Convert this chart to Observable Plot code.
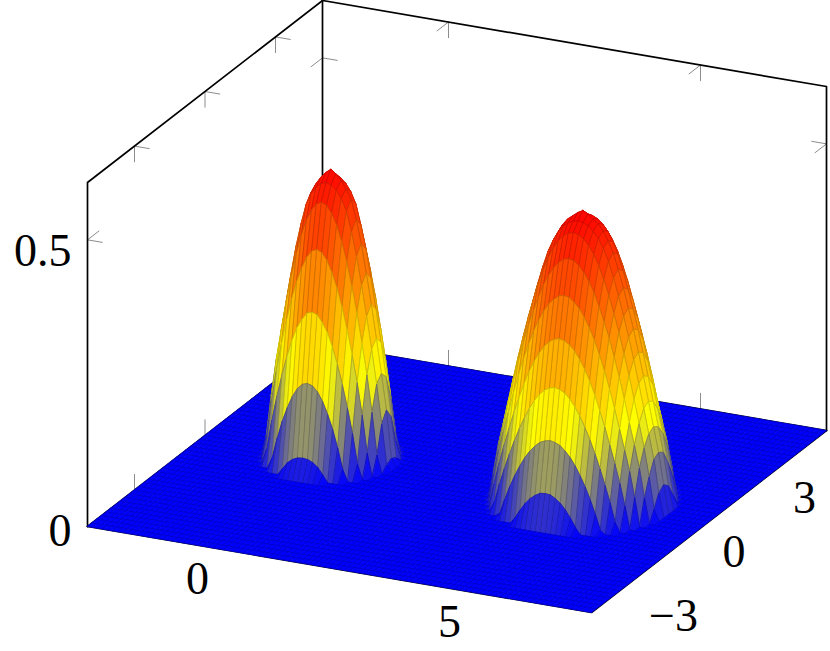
<!DOCTYPE html>
<html>
<head>
<meta charset="utf-8">
<script src="https://cdn.jsdelivr.net/npm/d3@7"></script>
<script src="https://cdn.jsdelivr.net/npm/@observablehq/plot@0.6"></script>
<style>
html,body{margin:0;padding:0;background:#fff}
svg{display:block}
</style>
</head>
<body>
<div id="chart"></div>
<script>
// axis ranges and ticks
const xRange = [-2.5, 7.5];
const yRange = [-5, 5];
const zRange = [0, 0.6];
const xTicks = [0, 5];
const yTicks = [-3, 0, 3];
const zTicks = [0, 0.5];

// sampling of the surface
const xStep = 0.1, yStep = 0.2;
const xCount = 100, yCount = 50;

// bump centres (x, y = 0)
const leftCentre = 0, rightCentre = 5;

// heights: one row per |y| = 0, 0.2, 0.4 ..., one value per |x| = 0, 0.1, 0.2 ...
const leftBump = [
  [.502,.495,.485,.472,.455,.422,.381,.331,.278,.220,.160,.098,.015],
  [.485,.482,.474,.461,.441,.406,.365,.316,.263,.207,.148,.080,.010],
  [.457,.453,.441,.422,.395,.361,.320,.275,.223,.169,.105,.032],
  [.381,.377,.365,.345,.320,.288,.250,.207,.160,.105,.040],
  [.278,.275,.263,.247,.223,.194,.160,.121,.078,.026],
  [.160,.157,.148,.133,.112,.087,.056,.020],
  [.036,.035,.031,.024,.012]
];
const rightBump = [
  [.505,.500,.493,.486,.475,.459,.440,.412,.382,.348,.313,.274,.234,.191,.148,.105,.050],
  [.493,.491,.487,.479,.468,.452,.431,.404,.373,.340,.305,.267,.227,.185,.142,.099,.042],
  [.479,.477,.471,.461,.447,.429,.406,.380,.350,.318,.283,.246,.206,.165,.124,.075,.020],
  [.440,.438,.431,.420,.406,.388,.365,.340,.313,.281,.248,.211,.171,.134,.095,.045],
  [.382,.380,.373,.364,.350,.333,.313,.289,.262,.232,.199,.165,.130,.094,.050],
  [.313,.311,.305,.296,.283,.267,.248,.225,.199,.172,.142,.111,.078,.040],
  [.234,.232,.227,.218,.206,.191,.173,.153,.130,.105,.078,.049,.016],
  [.148,.146,.142,.134,.124,.111,.095,.077,.056,.032,.006],
  [.062,.061,.056,.049,.039,.026,.011]
];

// colormap "hot"
const colorStops = [0, .168, .335, .505];
const colorNames = ["#0000ff", "#ffff00", "#ff8000", "#ff0000"];
const meshShade = 0.82;   // mesh lines: the mapped colour darkened

const hot = d3.scaleLinear().domain(colorStops).range(colorNames).interpolate(d3.interpolateRgb).clamp(true);
const meshColor = (v) => {
  const c = d3.rgb(hot(v));
  return `rgb(${c.r * meshShade},${c.g * meshShade},${c.b * meshShade})`;
};

// oblique projection of the 3-D box onto the page
const px = (x, y) => 87 + 50.4 * (x - xRange[0]) + 23.5 * (y - yRange[0]);
const py = (x, y, z) => 526 + 8.6 * (x - xRange[0]) - 18.2 * (y - yRange[0]) - 573.3 * z;
const P = (x, y, z) => ({X: px(x, y), Y: py(x, y, z)});

function height(i, j) {
  const xv = xRange[0] + i * xStep, yv = yRange[0] + j * yStep;
  const row = Math.round(Math.abs(yv) / yStep);
  const colL = Math.round(Math.abs(xv - leftCentre) / xStep);
  const colR = Math.round(Math.abs(xv - rightCentre) / xStep);
  return (leftBump[row]?.[colL] ?? 0) + (rightBump[row]?.[colR] ?? 0);
}

// cells, back to front
const cells = [];
let id = 0;
for (let j = yCount - 1; j >= 0; j--) {
  for (let i = 0; i < xCount; i++) {
    const corners = [[i, j], [i + 1, j], [i + 1, j + 1], [i, j + 1]];
    const zs = corners.map(([a, b]) => height(a, b));
    const mean = d3.mean(zs);
    const line = meshColor(mean);
    corners.forEach(([a, b], k) => {
      const p = P(xRange[0] + a * xStep, yRange[0] + b * yStep, zs[k]);
      cells.push({id, X: p.X, Y: p.Y, mean, line});
    });
    id++;
  }
}

const [x0, x1] = xRange, [y0, y1] = yRange, [z0, z1] = zRange;
const edge = (pts) => pts.map(([a, b, c]) => P(a, b, c));
const boxEdges = [
  edge([[x0,y0,z0],[x0,y0,z1],[x0,y1,z1],[x1,y1,z1],[x1,y1,z0]]),
  edge([[x0,y1,z0],[x0,y1,z1]]),
  edge([[x0,y0,z0],[x1,y0,z0],[x1,y1,z0]]),
  edge([[x0,y0,z0],[x0,y1,z0],[x1,y1,z0]])
].flatMap((pts, g) => pts.map((p) => ({...p, g})));

// tick stubs: length in data units along x, y and z
const tx = 0.3, ty = 0.5, tz = 0.028;
const stub = (a, b, c, da, db, dc) => ({x1: px(a, b), y1: py(a, b, c), x2: px(a + da, b + db), y2: py(a + da, b + db, c + dc)});
const stubs = [
  ...zTicks.filter(z => z > 0).flatMap(z => [
    stub(x0, y0, z, tx, 0, 0), stub(x0, y0, z, 0, ty, 0),
    stub(x0, y1, z, tx, 0, 0), stub(x0, y1, z, 0, -ty, 0),
    stub(x1, y1, z, -tx, 0, 0), stub(x1, y1, z, 0, -ty, 0)
  ]),
  ...yTicks.flatMap(y => [
    stub(x0, y, z1, tx, 0, 0), stub(x0, y, z1, 0, 0, -tz),
    stub(x0, y, z0, 0, 0, tz)
  ]),
  ...xTicks.flatMap(x => [
    stub(x, y1, z1, 0, -ty, 0), stub(x, y1, z1, 0, 0, -tz),
    stub(x, y1, z0, 0, 0, tz)
  ])
];

const labelFont = {fontFamily: "'Liberation Serif', serif", fontSize: 46, fill: "black", lineAnchor: "middle"};
const xLabels = xTicks.map(v => ({...P(v, y0, z0), t: String(v)}));
const yLabels = yTicks.map(v => ({...P(x1, v, z0), t: v < 0 ? "\u2212" + Math.abs(v) : String(v)}));
const zLabels = zTicks.map(v => ({...P(x0, y0, v), t: String(v)}));

const chart = Plot.plot({
  width: 830,
  height: 651,
  margin: 0,
  style: {background: "white"},
  x: {domain: [0, 830], range: [0, 830], axis: null},
  y: {domain: [0, 651], range: [0, 651], axis: null},
  color: {type: "linear", domain: colorStops, range: colorNames, interpolate: "rgb", clamp: true},
  marks: [
    Plot.link(stubs, {x1: "x1", y1: "y1", x2: "x2", y2: "y2", stroke: "#8c8c8c", strokeWidth: 1}),
    Plot.line(boxEdges, {x: "X", y: "Y", z: "g", stroke: "black", strokeWidth: 1.7}),
    Plot.line(cells, {x: "X", y: "Y", z: "id", fill: "mean", stroke: "line", strokeWidth: 0.9, curve: "linear-closed"}),
    Plot.text(xLabels, {x: "X", y: "Y", text: "t", dx: -16, dy: 31, ...labelFont}),
    Plot.text(yLabels.slice(0, 1), {x: "X", y: "Y", text: "t", dx: 35, dy: 40, ...labelFont}),
    Plot.text(yLabels.slice(1), {x: "X", y: "Y", text: "t", dx: 25, dy: 31, ...labelFont}),
    Plot.text(zLabels.slice(0, 1), {x: "X", y: "Y", text: "t", textAnchor: "end", dx: -16, dy: 5, ...labelFont}),
    Plot.text(zLabels.slice(1), {x: "X", y: "Y", text: "t", textAnchor: "end", dx: -16, dy: 11, ...labelFont})
  ]
});
document.getElementById("chart").appendChild(chart);
</script>
</body>
</html>
